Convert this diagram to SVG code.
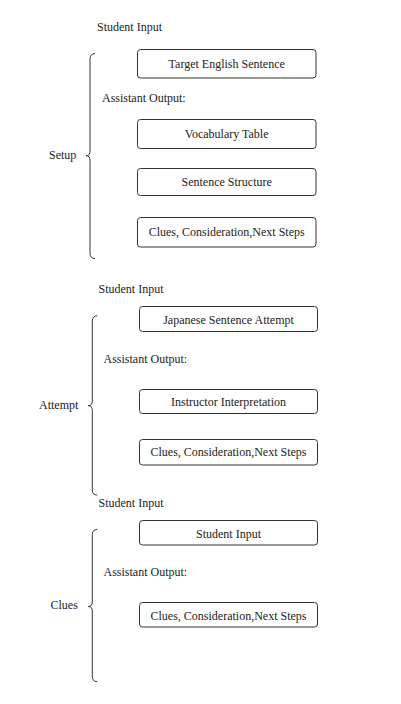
<svg xmlns="http://www.w3.org/2000/svg" width="401" height="704" viewBox="0 0 401 704" font-family="'Liberation Serif', 'Times New Roman', Times, serif" font-size="12">
<style>
text{font-family:'Liberation Serif','Times New Roman',Times,serif;font-size:12px;fill:#222}
.c{text-anchor:middle}
.box{fill:#fff;stroke:#333;stroke-width:1}
.brace{fill:none;stroke:#333;stroke-width:1}
</style>
<rect width="401" height="704" fill="#fff"/>
<g id="setup">
<text x="97" y="31">Student Input</text>
<text x="102" y="102">Assistant Output:</text>
<text x="49" y="159">Setup</text>
</g>
<g id="setup-target"><rect class="box" x="137.5" y="49.5" width="178.5" height="28.5" rx="3"/><text class="c" x="226.7" y="67.5">Target English Sentence</text></g>
<g id="setup-vocab"><rect class="box" x="137.5" y="119.5" width="178.5" height="29" rx="3"/><text class="c" x="226.7" y="137.5">Vocabulary Table</text></g>
<g id="setup-structure"><rect class="box" x="137.5" y="168.5" width="178.5" height="27" rx="3"/><text class="c" x="226.7" y="186">Sentence Structure</text></g>
<g id="setup-clues"><rect class="box" x="137.5" y="217.5" width="178.5" height="29.5" rx="3"/><text class="c" x="226.7" y="235.5">Clues, Consideration,Next Steps</text></g>
<g id="attempt">
<text x="98.5" y="292.5">Student Input</text>
<text x="103.5" y="362.5">Assistant Output:</text>
<text x="39" y="408.5">Attempt</text>
<text x="98.5" y="507">Student Input</text>
</g>
<g id="attempt-japanese"><rect class="box" x="139.5" y="306.5" width="178" height="25" rx="3"/><text class="c" x="228.5" y="323.5">Japanese Sentence Attempt</text></g>
<g id="attempt-interp"><rect class="box" x="139.5" y="389.5" width="178" height="24" rx="3"/><text class="c" x="228.5" y="405.5">Instructor Interpretation</text></g>
<g id="attempt-clues"><rect class="box" x="139.5" y="439.5" width="178" height="25.5" rx="3"/><text class="c" x="228.5" y="455.5">Clues, Consideration,Next Steps</text></g>
<g id="clues">
<text x="103.5" y="576">Assistant Output:</text>
<text x="50.5" y="608.5">Clues</text>
</g>
<g id="clues-input"><rect class="box" x="139.5" y="520.5" width="178" height="24.5" rx="3"/><text class="c" x="228.5" y="537.5">Student Input</text></g>
<g id="clues-clues"><rect class="box" x="139.5" y="602.5" width="178" height="24.5" rx="3"/><text class="c" x="228.5" y="619.5">Clues, Consideration,Next Steps</text></g>
<g id="connectors">
<path class="brace" d="M95,53.5 Q90,54 90,59 L90,151 Q90,155.7 86,155.7 Q90,155.7 90,160.5 L90,253 Q90,258.5 95,258.5"/>
<path class="brace" d="M97.3,315.7 Q92.3,316 92.3,321 L92.3,401 Q92.3,405.7 88.3,405.7 Q92.3,405.7 92.3,410.5 L92.3,490 Q92.3,495 97.3,495"/>
<path class="brace" d="M97.3,529.3 Q92.3,529.6 92.3,534.5 L92.3,602 Q92.3,606.5 88.3,606.5 Q92.3,606.5 92.3,611 L92.3,676.5 Q92.3,681.7 97.3,681.7"/>
</g>
</svg>
